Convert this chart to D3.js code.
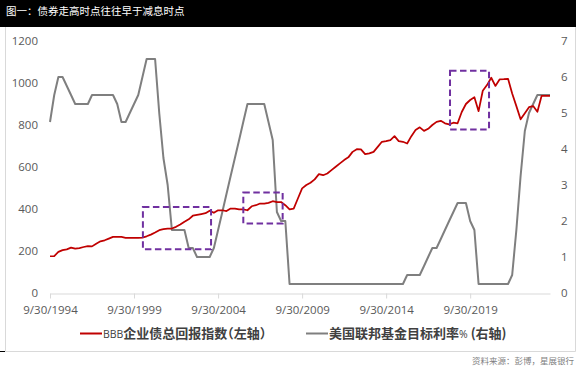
<!DOCTYPE html>
<html>
<head>
<meta charset="utf-8">
<script src="https://cdn.jsdelivr.net/npm/d3@7"></script>
<style>
  body { margin: 0; background: #fff; }
  svg { display: block; }
  .tick text { fill: #595959; font-family: 'Open Sans', sans-serif; font-size: 11.5px; }
  .legend text { font-family: 'Noto Sans CJK SC', sans-serif; fill: #404040; }
  .cjk { font-feature-settings: 'halt'; }
</style>
</head>
<body>
<div id="chart"></div>
<script>
// quarter-end observations, 9/30/1994 .. 6/30/2024
const FIRST_MONTH_AFTER = new Date(1994, 9, 1)
const LAST_MONTH_AFTER = new Date(2024, 6, 1)

const TICK_LABELS = ['9/30/1994', '9/30/1999', '9/30/2004', '9/30/2009', '9/30/2014', '9/30/2019']
const LEFT_TICKS = [0, 200, 400, 600, 800, 1000, 1200]
const RIGHT_TICKS = [0, 1, 2, 3, 4, 5, 6, 7]

// BBB企业债总回报指数 (left axis)
const BBB_INDEX = [
  175, 176, 196, 204, 208, 216, 211, 214, 219, 223,
  222, 235, 246, 251, 259, 267, 267, 267, 263, 263,
  262, 262, 264, 270, 278, 288, 299, 304, 307, 307,
  315, 326, 339, 351, 368, 372, 376, 380, 392, 382,
  394, 394, 390, 402, 402, 398, 398, 394, 413, 418,
  426, 426, 429, 437, 433, 433, 418, 398, 402, 450,
  498, 514, 525, 541, 566, 561, 569, 585, 601, 617,
  633, 646, 672, 685, 684, 661, 665, 672, 696, 720,
  723, 728, 747, 723, 720, 712, 747, 776, 789, 772,
  782, 800, 815, 820, 808, 803, 811, 808, 862, 900,
  919, 932, 866, 963, 990, 1025, 986, 1017, 1018, 1020,
  950, 890, 827, 856, 885, 890, 863, 939, 939, 939
]

// 美国联邦基金目标利率% (right axis)
const FED_RATE = [
  4.75, 5.5, 6, 6, 5.75, 5.5, 5.25, 5.25, 5.25, 5.25,
  5.5, 5.5, 5.5, 5.5, 5.5, 5.5, 5.25, 4.75, 4.75, 5,
  5.25, 5.5, 6, 6.5, 6.5, 6.5, 5, 3.75, 3, 1.75,
  1.75, 1.75, 1.75, 1.25, 1.25, 1, 1, 1, 1, 1.25,
  1.75, 2.25, 2.75, 3.25, 3.75, 4.25, 4.75, 5.25, 5.25, 5.25,
  5.25, 5.25, 4.75, 4.25, 2.25, 2, 2, 0.25, 0.25, 0.25,
  0.25, 0.25, 0.25, 0.25, 0.25, 0.25, 0.25, 0.25, 0.25, 0.25,
  0.25, 0.25, 0.25, 0.25, 0.25, 0.25, 0.25, 0.25, 0.25, 0.25,
  0.25, 0.25, 0.25, 0.25, 0.25, 0.5, 0.5, 0.5, 0.5, 0.75,
  1, 1.25, 1.25, 1.5, 1.75, 2, 2.25, 2.5, 2.5, 2.5,
  2, 1.75, 0.25, 0.25, 0.25, 0.25, 0.25, 0.25, 0.25, 0.25,
  0.5, 1.75, 3.25, 4.5, 5, 5.25, 5.5, 5.5, 5.5, 5.5
]

// dashed highlight boxes, in left-axis units
const BOX_STARTS = ['2000-04-10', '2006-04-01', '2018-07-19']
const BOX_ENDS = ['2004-04-30', '2008-08-03', '2020-11-13']
const BOX_TOPS = [409, 479, 1058]
const BOX_BOTTOMS = [208, 331, 779]

const TITLE = '图一：债券走高时点往往早于减息时点'
const SOURCE = '资料来源：彭博，星展银行'

const width = 576
const height = 375
const plot = { left: 50, right: 550, top: 41, bottom: 293 }

const dates = d3.timeMonth.range(FIRST_MONTH_AFTER, LAST_MONTH_AFTER, 3)
  .concat([LAST_MONTH_AFTER])
  .map(d => d3.timeDay.offset(d, -1))
const parseTick = d3.timeParse('%m/%d/%Y')
const parseDay = d3.timeParse('%Y-%m-%d')

const svg = d3.select('#chart').append('svg')
  .attr('width', width)
  .attr('height', height)

// header bar
svg.append('rect')
  .attr('width', width)
  .attr('height', 27)
  .attr('fill', '#000')
svg.append('text')
  .attr('x', 6)
  .attr('y', 14.5)
  .attr('fill', '#fff')
  .style('font-family', "'Noto Sans CJK SC', sans-serif")
  .style('font-size', '10.5px')
  .text(TITLE)

// frame
const frame = svg.append('g').attr('stroke', '#d9d9d9').attr('fill', 'none')
frame.append('path').attr('d', `M5.5,27V351.5H575.5V27`)
svg.append('line')
  .attr('x1', 0).attr('x2', 5)
  .attr('y1', 351.5).attr('y2', 351.5)
  .attr('stroke', '#000')

const x = d3.scaleTime()
  .domain(d3.extent(dates))
  .range([plot.left, plot.right])
const yLeft = d3.scaleLinear().domain([0, 1200]).range([plot.bottom, plot.top])
const yRight = d3.scaleLinear().domain([0, 7]).range([plot.bottom, plot.top])

const xAxis = svg.append('g')
  .attr('transform', `translate(0,${plot.bottom + 0.5})`)
  .call(d3.axisBottom(x)
    .tickValues(TICK_LABELS.map(parseTick))
    .tickFormat(d3.timeFormat('%-m/%-d/%Y'))
    .tickSize(5)
    .tickSizeOuter(0)
    .tickPadding(7))
xAxis.select('.domain').attr('stroke', '#d9d9d9')
xAxis.selectAll('.tick line').attr('stroke', '#d9d9d9')

svg.append('g')
  .attr('transform', 'translate(40,0)')
  .call(d3.axisLeft(yLeft).tickValues(LEFT_TICKS).tickFormat(d3.format('d')).tickSize(0).tickPadding(2))
  .call(g => g.select('.domain').remove())

svg.append('g')
  .attr('transform', 'translate(559,0)')
  .call(d3.axisRight(yRight).tickValues(RIGHT_TICKS).tickFormat(d3.format('d')).tickSize(0).tickPadding(2))
  .call(g => g.select('.domain').remove())

const fedLine = d3.line()
  .x((d, i) => x(dates[i]))
  .y(d => yRight(d))
const bbbLine = d3.line()
  .x((d, i) => x(dates[i]))
  .y(d => yLeft(d))

svg.append('path')
  .datum(FED_RATE)
  .attr('fill', 'none')
  .attr('stroke', '#7f7f7f')
  .attr('stroke-width', 2)
  .attr('stroke-linejoin', 'round')
  .attr('d', fedLine)

svg.append('path')
  .datum(BBB_INDEX)
  .attr('fill', 'none')
  .attr('stroke', '#c00000')
  .attr('stroke-width', 1.75)
  .attr('stroke-linejoin', 'round')
  .attr('d', bbbLine)

svg.append('g')
  .selectAll('rect')
  .data(BOX_STARTS)
  .enter().append('rect')
    .attr('x', (d, i) => x(parseDay(d)))
    .attr('y', (d, i) => yLeft(BOX_TOPS[i]))
    .attr('width', (d, i) => x(parseDay(BOX_ENDS[i])) - x(parseDay(d)))
    .attr('height', (d, i) => yLeft(BOX_BOTTOMS[i]) - yLeft(BOX_TOPS[i]))
    .attr('fill', 'none')
    .attr('stroke', '#7030a0')
    .attr('stroke-width', 2)
    .attr('stroke-dasharray', '6.5,3.5')

// legend
const legendItems = [
  { color: '#c00000', x: 80, prefix: 'BBB', label: '企业债总回报指数（左轴）', suffix: '' },
  { color: '#7f7f7f', x: 306, prefix: '', label: '美国联邦基金目标利率', suffix: '%' }
]
const legend = svg.append('g').attr('class', 'legend')
legendItems.forEach(item => {
  legend.append('line')
    .attr('x1', item.x).attr('x2', item.x + 22)
    .attr('y1', 333.5).attr('y2', 333.5)
    .attr('stroke', item.color)
    .attr('stroke-width', 2)
  const text = legend.append('text')
    .attr('x', item.x + 23)
    .attr('y', 338)
  if (item.prefix) {
    text.append('tspan')
      .style('font-family', "'Open Sans', sans-serif")
      .style('font-size', '10.5px')
      .text(item.prefix)
  }
  text.append('tspan')
    .attr('class', 'cjk')
    .style('font-size', '13px')
    .style('font-weight', 'bold')
    .text(item.label)
  if (item.suffix) {
    text.append('tspan')
      .style('font-family', "'Open Sans', sans-serif")
      .style('font-size', '10.5px')
      .text(item.suffix)
    text.append('tspan')
      .style('font-size', '13px')
      .style('font-weight', 'bold')
      .text(' (右轴)')
  }
})

svg.append('text')
  .attr('x', 574)
  .attr('y', 364)
  .attr('text-anchor', 'end')
  .attr('fill', '#7f7f7f')
  .style('font-family', "'Noto Sans CJK SC', sans-serif")
  .style('font-size', '8.5px')
  .text(SOURCE)
</script>
</body>
</html>
